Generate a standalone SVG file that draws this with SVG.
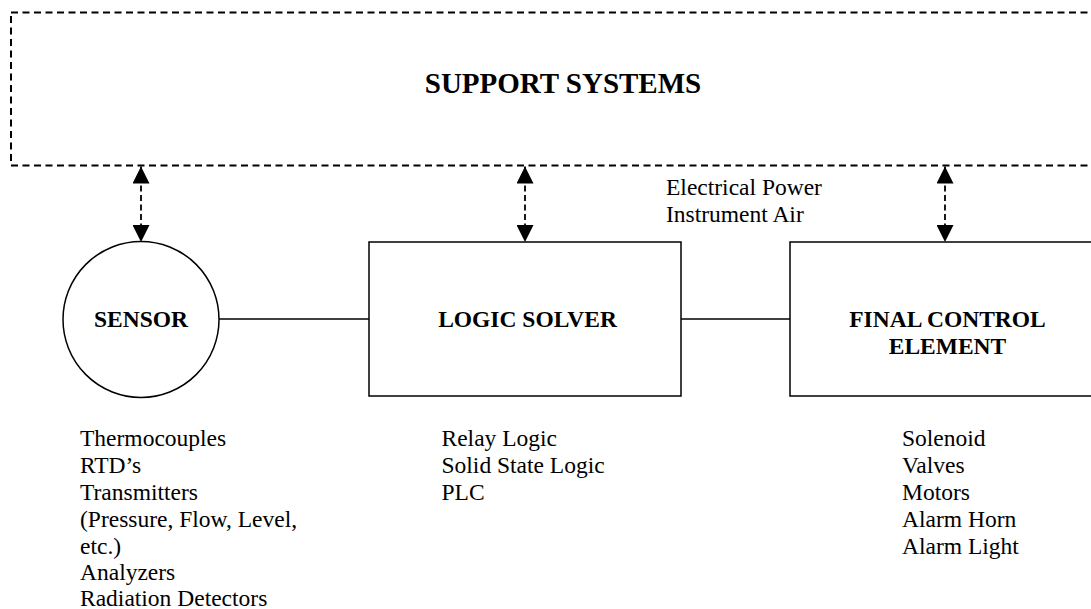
<svg xmlns="http://www.w3.org/2000/svg" width="1091" height="609" viewBox="0 0 1091 609">
<style>
text{font-family:"Liberation Serif","Times New Roman",serif;fill:#000}
.b{font-weight:bold;font-size:23.5px;text-anchor:middle}
.t{font-size:23.5px}
.shape{fill:#fff;stroke:#000;stroke-width:1.5}
.dbox{fill:none;stroke:#000;stroke-width:2;stroke-dasharray:7,4.5}
.conn{fill:none;stroke:#000;stroke-width:1.5}
.dconn{fill:none;stroke:#000;stroke-width:1.8;stroke-dasharray:6,3.5}
</style>
<defs>
<marker id="ah" viewBox="0 0 10 10" refX="10" refY="5" markerWidth="17" markerHeight="17" markerUnits="userSpaceOnUse" orient="auto-start-reverse">
<path d="M0,0 L10,5 L0,10 Z" fill="#000"/>
</marker>
</defs>
<rect width="1091" height="609" fill="#fff"/>
<g id="support">
<rect class="dbox" x="11" y="12.5" width="1100" height="153"/>
<text class="b" x="563" y="93" style="font-size:29px">SUPPORT SYSTEMS</text>
</g>
<g id="connectors">
<line class="conn" x1="219" y1="319" x2="369" y2="319"/>
<line class="conn" x1="681" y1="319" x2="790" y2="319"/>
<line class="dconn" x1="141" y1="166.5" x2="141" y2="242" marker-start="url(#ah)" marker-end="url(#ah)"/>
<line class="dconn" x1="525" y1="166.5" x2="525" y2="242" marker-start="url(#ah)" marker-end="url(#ah)"/>
<line class="dconn" x1="945" y1="166.5" x2="945" y2="242" marker-start="url(#ah)" marker-end="url(#ah)"/>
</g>
<g id="sensor">
<circle class="shape" cx="141" cy="319.5" r="78"/>
<text class="b" x="141" y="327">SENSOR</text>
</g>
<g id="logic-solver">
<rect class="shape" x="369" y="242" width="312" height="154"/>
<text class="b" x="527.5" y="327">LOGIC SOLVER</text>
</g>
<g id="final-control">
<rect class="shape" x="790" y="242" width="320" height="154"/>
<text class="b" x="947.5" y="327">FINAL CONTROL</text>
<text class="b" x="947.5" y="354">ELEMENT</text>
</g>
<g id="support-label">
<text class="t" x="666" y="195">Electrical Power</text>
<text class="t" x="666" y="222">Instrument Air</text>
</g>
<g id="sensor-list">
<text class="t" x="80" y="446">Thermocouples</text>
<text class="t" x="80" y="473">RTD’s</text>
<text class="t" x="80" y="500">Transmitters</text>
<text class="t" x="80" y="527">(Pressure, Flow, Level,</text>
<text class="t" x="80" y="554">etc.)</text>
<text class="t" x="80" y="580">Analyzers</text>
<text class="t" x="80" y="605.5">Radiation Detectors</text>
</g>
<g id="logic-list">
<text class="t" x="441.5" y="446">Relay Logic</text>
<text class="t" x="441.5" y="473">Solid State Logic</text>
<text class="t" x="441.5" y="500">PLC</text>
</g>
<g id="final-list">
<text class="t" x="902" y="446">Solenoid</text>
<text class="t" x="902" y="473">Valves</text>
<text class="t" x="902" y="500">Motors</text>
<text class="t" x="902" y="527">Alarm Horn</text>
<text class="t" x="902" y="554">Alarm Light</text>
</g>
</svg>
